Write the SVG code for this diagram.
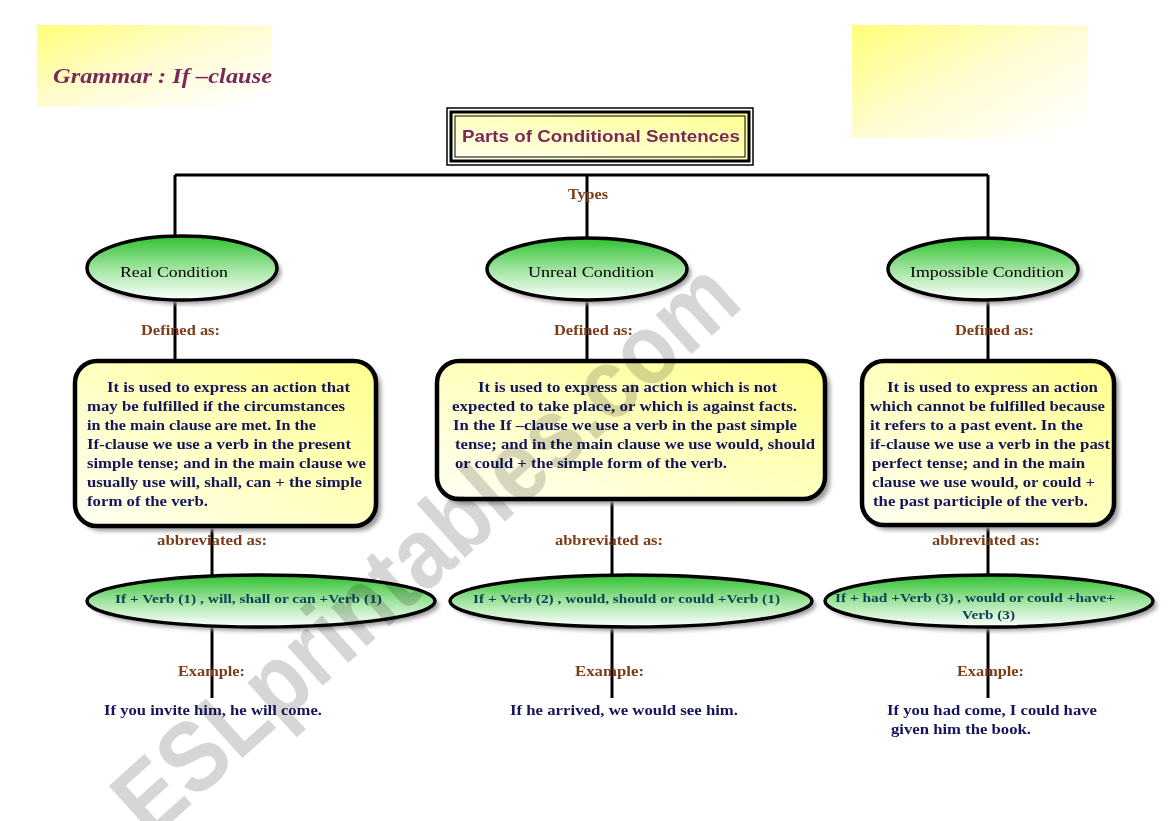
<svg xmlns="http://www.w3.org/2000/svg" width="1169" height="821" viewBox="0 0 1169 821">
<defs>
  <linearGradient id="gBanner" x1="0" y1="0" x2="1" y2="0.9">
    <stop offset="0" stop-color="#ffff78"/>
    <stop offset="0.5" stop-color="#fffcd0"/>
    <stop offset="1" stop-color="#ffffff"/>
  </linearGradient>
  <linearGradient id="gBox" x1="1" y1="0" x2="0" y2="1">
    <stop offset="0" stop-color="#ffff8c"/>
    <stop offset="0.55" stop-color="#ffffc4"/>
    <stop offset="1" stop-color="#fffff4"/>
  </linearGradient>
  <linearGradient id="gTitle" x1="1" y1="0" x2="0" y2="1">
    <stop offset="0" stop-color="#ffff90"/>
    <stop offset="1" stop-color="#fffff0"/>
  </linearGradient>
  <linearGradient id="gEll" x1="0" y1="0" x2="0" y2="1">
    <stop offset="0" stop-color="#2fc02f"/>
    <stop offset="0.5" stop-color="#9fe49f"/>
    <stop offset="1" stop-color="#ffffff"/>
  </linearGradient>
  <filter id="blur" x="-10%" y="-10%" width="120%" height="120%">
    <feGaussianBlur stdDeviation="2"/>
  </filter>
</defs>
<style>
  .conn { stroke: #000; stroke-width: 3; fill: none; }
  .ell { fill: url(#gEll); stroke: #000; stroke-width: 3.5; }
  .shadow { fill: #9a9a9a; filter: url(#blur); }
  .box { fill: url(#gBox); stroke: #000; stroke-width: 4.5; }
  .btxt { font-family: "Liberation Serif", "Times New Roman", serif; font-weight: bold; font-size: 15px; fill: #15155c; }
  .ltxt { font-family: "Liberation Serif", "Times New Roman", serif; font-weight: bold; font-size: 14px; fill: #7b3c16; }
  .etxt { font-family: "Liberation Serif", "Times New Roman", serif; font-size: 15px; fill: #000; }
  .atxt { font-family: "Liberation Serif", "Times New Roman", serif; font-weight: bold; font-size: 13.5px; fill: #0e3f52; }
  .xtxt { font-family: "Liberation Serif", "Times New Roman", serif; font-weight: bold; font-size: 15px; fill: #15155c; }
</style>

<rect x="37" y="25" width="235" height="82" fill="url(#gBanner)"/>
<rect x="852" y="25" width="236" height="113" fill="url(#gBanner)"/>
<text x="53" y="83" font-family="Liberation Serif, serif" font-style="italic" font-weight="bold" font-size="21" fill="#7a2a5a" textLength="219" lengthAdjust="spacingAndGlyphs">Grammar : If –clause</text>

<g id="connectors">
  <path class="conn" d="M175 175 H988"/>
  <path class="conn" d="M175 175 V238 M587 175 V240 M988 175 V240"/>
  <path class="conn" d="M175 300 V361 M587 300 V361 M988 300 V361"/>
  <path class="conn" d="M212 527 V576 M612 499 V576 M988 526 V576"/>
  <path class="conn" d="M212 626 V698 M612 626 V698 M988 626 V698"/>
</g>

<g id="title">
  <rect x="447" y="108" width="306" height="57" fill="#fff" stroke="#000" stroke-width="1.5"/>
  <rect x="451" y="112" width="298" height="49" fill="url(#gTitle)" stroke="#000" stroke-width="3"/>
  <rect x="455" y="116" width="290" height="41" fill="none" stroke="#000" stroke-width="1"/>
  <text x="462" y="142" font-family="Liberation Sans, Arial, sans-serif" font-weight="bold" font-size="17" fill="#7a2a5a" textLength="278" lengthAdjust="spacingAndGlyphs">Parts of Conditional Sentences</text>
</g>

<g id="label-types"><text class="ltxt" x="568" y="199" font-weight="normal" textLength="40" lengthAdjust="spacingAndGlyphs">Types</text></g>

<g id="real">
  <ellipse class="shadow" cx="186" cy="272" rx="95" ry="32"/>
  <ellipse class="ell" cx="182" cy="268" rx="95" ry="32"/>
  <text class="etxt" x="120" y="277" textLength="108" lengthAdjust="spacingAndGlyphs">Real Condition</text>
</g>
<g id="unreal">
  <ellipse class="shadow" cx="591" cy="273" rx="100" ry="31"/>
  <ellipse class="ell" cx="587" cy="269" rx="100" ry="31"/>
  <text class="etxt" x="528" y="277" textLength="126" lengthAdjust="spacingAndGlyphs">Unreal Condition</text>
</g>
<g id="impossible">
  <ellipse class="shadow" cx="987" cy="273" rx="95" ry="31"/>
  <ellipse class="ell" cx="983" cy="269" rx="95" ry="31"/>
  <text class="etxt" x="910" y="277" textLength="154" lengthAdjust="spacingAndGlyphs">Impossible Condition</text>
</g>

<g id="labels-defined">
  <text class="ltxt" x="141" y="335" textLength="79" lengthAdjust="spacingAndGlyphs">Defined as:</text>
  <text class="ltxt" x="554" y="335" textLength="79" lengthAdjust="spacingAndGlyphs">Defined as:</text>
  <text class="ltxt" x="955" y="335" textLength="79" lengthAdjust="spacingAndGlyphs">Defined as:</text>
</g>

<g id="box-real">
  <rect class="shadow" x="79" y="365" width="302" height="166" rx="22"/>
  <rect class="box" x="75" y="361" width="301" height="165" rx="22"/>
  <text class="btxt" x="107" y="392" textLength="243" lengthAdjust="spacingAndGlyphs">It is used to express an action that</text>
  <text class="btxt" x="87" y="411" textLength="258" lengthAdjust="spacingAndGlyphs">may be fulfilled if the circumstances</text>
  <text class="btxt" x="87" y="430" textLength="229" lengthAdjust="spacingAndGlyphs">in the main clause are met. In the</text>
  <text class="btxt" x="87" y="449" textLength="264" lengthAdjust="spacingAndGlyphs">If-clause we use a verb in the present</text>
  <text class="btxt" x="87" y="468" textLength="279" lengthAdjust="spacingAndGlyphs">simple tense; and in the main clause we</text>
  <text class="btxt" x="87" y="487" textLength="275" lengthAdjust="spacingAndGlyphs">usually use will, shall, can + the simple</text>
  <text class="btxt" x="87" y="506" textLength="121" lengthAdjust="spacingAndGlyphs">form of the verb.</text>
</g>

<g id="box-unreal">
  <rect class="shadow" x="441" y="365" width="389" height="139" rx="22"/>
  <rect class="box" x="437" y="361" width="388" height="138" rx="22"/>
  <text class="btxt" x="478" y="392" textLength="299" lengthAdjust="spacingAndGlyphs">It is used to express an action which is not</text>
  <text class="btxt" x="452" y="411" textLength="345" lengthAdjust="spacingAndGlyphs">expected to take place, or which is against facts.</text>
  <text class="btxt" x="453" y="430" textLength="344" lengthAdjust="spacingAndGlyphs">In the If –clause we use a verb in the past simple</text>
  <text class="btxt" x="455" y="449" textLength="360" lengthAdjust="spacingAndGlyphs">tense; and in the main clause we use would, should</text>
  <text class="btxt" x="455" y="468" textLength="272" lengthAdjust="spacingAndGlyphs">or could + the simple form of the verb.</text>
</g>

<g id="box-impossible">
  <rect class="shadow" x="866" y="365" width="253" height="165" rx="22"/>
  <rect class="box" x="862" y="361" width="252" height="164" rx="22"/>
  <text class="btxt" x="887" y="392" textLength="211" lengthAdjust="spacingAndGlyphs">It is used to express an action</text>
  <text class="btxt" x="870" y="411" textLength="235" lengthAdjust="spacingAndGlyphs">which cannot be fulfilled because</text>
  <text class="btxt" x="870" y="430" textLength="213" lengthAdjust="spacingAndGlyphs">it refers to a past event. In the</text>
  <text class="btxt" x="870" y="449" textLength="240" lengthAdjust="spacingAndGlyphs">if-clause we use a verb in the past</text>
  <text class="btxt" x="872" y="468" textLength="213" lengthAdjust="spacingAndGlyphs">perfect tense; and in the main</text>
  <text class="btxt" x="872" y="487" textLength="223" lengthAdjust="spacingAndGlyphs">clause we use would, or could +</text>
  <text class="btxt" x="873" y="506" textLength="215" lengthAdjust="spacingAndGlyphs">the past participle of the verb.</text>
</g>

<g id="labels-abbrev">
  <text class="ltxt" x="157" y="545" textLength="110" lengthAdjust="spacingAndGlyphs">abbreviated as:</text>
  <text class="ltxt" x="555" y="545" textLength="108" lengthAdjust="spacingAndGlyphs">abbreviated as:</text>
  <text class="ltxt" x="932" y="545" textLength="108" lengthAdjust="spacingAndGlyphs">abbreviated as:</text>
</g>

<g id="abbr-real">
  <ellipse class="shadow" cx="265" cy="605" rx="174" ry="26"/>
  <ellipse class="ell" cx="261" cy="601" rx="174" ry="26"/>
  <text class="atxt" x="115" y="603" textLength="267" lengthAdjust="spacingAndGlyphs">If + Verb (1) , will, shall or can +Verb (1)</text>
</g>
<g id="abbr-unreal">
  <ellipse class="shadow" cx="635" cy="605" rx="181" ry="26"/>
  <ellipse class="ell" cx="631" cy="601" rx="181" ry="26"/>
  <text class="atxt" x="473" y="603" textLength="307" lengthAdjust="spacingAndGlyphs">If + Verb (2) , would, should or could +Verb (1)</text>
</g>
<g id="abbr-impossible">
  <ellipse class="shadow" cx="993" cy="605" rx="164" ry="26"/>
  <ellipse class="ell" cx="989" cy="601" rx="164" ry="26"/>
  <text class="atxt" x="835" y="602" textLength="280" lengthAdjust="spacingAndGlyphs">If + had +Verb (3) , would or could +have+</text>
  <text class="atxt" x="962" y="619" textLength="53" lengthAdjust="spacingAndGlyphs">Verb (3)</text>
</g>

<g id="labels-example">
  <text class="ltxt" x="178" y="676" font-weight="normal" textLength="67" lengthAdjust="spacingAndGlyphs">Example:</text>
  <text class="ltxt" x="575" y="676" font-weight="normal" textLength="69" lengthAdjust="spacingAndGlyphs">Example:</text>
  <text class="ltxt" x="957" y="676" font-weight="normal" textLength="67" lengthAdjust="spacingAndGlyphs">Example:</text>
</g>

<g id="examples">
  <text class="xtxt" x="104" y="715" textLength="218" lengthAdjust="spacingAndGlyphs">If you invite him, he will come.</text>
  <text class="xtxt" x="510" y="715" textLength="228" lengthAdjust="spacingAndGlyphs">If he arrived, we would see him.</text>
  <text class="xtxt" x="887" y="715" textLength="210" lengthAdjust="spacingAndGlyphs">If you had come, I could have</text>
  <text class="xtxt" x="891" y="734" textLength="140" lengthAdjust="spacingAndGlyphs">given him the book.</text>
</g>

<g id="watermark" style="mix-blend-mode:multiply">
  <text transform="translate(425,548) rotate(-42)" x="0" y="34" text-anchor="middle" font-family="Liberation Sans, Arial, sans-serif" font-weight="bold" font-size="100" fill="#d6d6d6" textLength="800" lengthAdjust="spacingAndGlyphs">ESLprintables.com</text>
</g>
</svg>
